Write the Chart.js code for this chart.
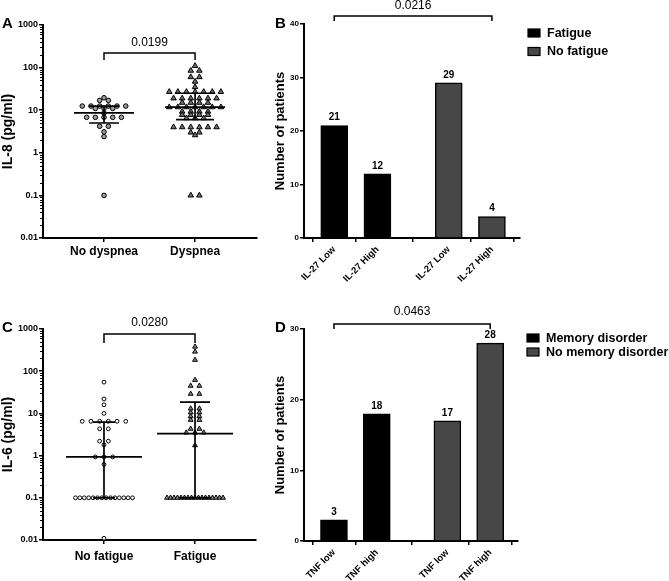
<!DOCTYPE html>
<html>
<head>
<meta charset="utf-8">
<script src="https://cdn.jsdelivr.net/npm/chart.js@4"></script>
<style>
    body { margin: 0; background: #fff; }
    #wrap { position: relative; width: 669px; height: 581px; }
    canvas { position: absolute; }
</style>
</head>
<body>
<div id="wrap">
    <canvas id="chartA" width="265" height="285" style="left:0;top:0"></canvas>
    <canvas id="chartB" width="404" height="285" style="left:265px;top:0"></canvas>
    <canvas id="chartC" width="265" height="296" style="left:0;top:285px"></canvas>
    <canvas id="chartD" width="404" height="296" style="left:265px;top:285px"></canvas>
</div>
<script>
// 数据 A：IL-8
const aGroups = ['No dyspnea', 'Dyspnea'];
const aNoDyspnea = [19.6, 17, 17, 12.5, 12.5, 12.5, 12.5, 12.5, 12.5, 11, 11, 11, 8.6,
    6.8, 6.8, 6.8, 6.8, 6.8, 4.2, 4.2, 3.1, 2.4, 0.1];
const aDyspnea = [110, 85, 85, 60, 60, 47, 35, 27, 27, 27, 27, 27, 27, 27,
    19, 19, 19, 19, 19, 19, 15, 15, 15, 15, 11.8, 11.8, 11.8, 11.8, 11.8, 11.8, 11.8,
    9.3, 9.3, 9.3, 9.3, 7.8, 7.8, 7.8, 7.8, 6.5, 6.5, 6.5, 4, 4, 4, 4, 4, 4, 3, 3, 2.6, 0.1, 0.1];
const aMean = [8.7, 11.8];
const aLow = [5.0, 6.0];
const aHigh = [12.5, 25];
const aPValue = '0.0199';

// 数据 B：IL-27 / 疲劳
const bSeries = ['Fatigue', 'No fatigue'];
const bLevels = ['IL-27 Low', 'IL-27 High'];
const bFatigue = [21, 12];
const bNoFatigue = [29, 4];
const bTicks = [0, 10, 20, 30, 40];
const bPValue = '0.0216';

// 数据 C：IL-6
const cGroups = ['No fatigue', 'Fatigue'];
const cNoFatigue = [55, 22, 16, 10, 6.5, 6.5, 6.5, 6.5, 6.5, 6.5, 4.3, 4.3, 2.2, 2.2, 1.8,
    0.93, 0.93, 0.93, 0.62, 0.1, 0.1, 0.1, 0.1, 0.1, 0.1, 0.1, 0.1, 0.1, 0.1, 0.1, 0.1, 0.1, 0.1, 0.011];
const cFatigue = [380, 290, 185, 62, 45, 45, 29, 29, 13, 13, 10.5, 10.5, 8.5, 8.5, 7, 7,
    4.3, 4.3, 3.5, 3.5, 3.5, 1.75, 0.1, 0.1, 0.1, 0.1, 0.1, 0.1, 0.1, 0.1, 0.1, 0.1, 0.1, 0.1,
    0.1, 0.1, 0.1, 0.1, 0.1];
const cMedian = [0.93, 3.3];
const cLow = [0.1, 0.1];
const cHigh = [6.2, 18.5];
const cPValue = '0.0280';

// 数据 D：TNF / 记忆障碍
const dSeries = ['Memory disorder', 'No memory disorder'];
const dLevels = ['TNF low', 'TNF high'];
const dMemory = [3, 18];
const dNoMemory = [17, 28];
const dTicks = [0, 10, 20, 30];
const dPValue = '0.0463';

const logTicks = [0.01, 0.1, 1, 10, 100, 1000];

const FONT = "'Liberation Sans', Arial, sans-serif";
Chart.defaults.font.family = FONT;
Chart.defaults.color = '#000';

const GROUP_STEP = 2.65;
function barX(g, l) { return 1 + g * GROUP_STEP + l; }

// 自定义绘制：字母、p值括号、均值线、柱顶数字、图例
const panelPlugin = {
    id: 'panel',
    afterDatasetsDraw(chart, args, opts) {
        const ctx = chart.ctx;
        const xs = chart.scales.x, ys = chart.scales.y;
        ctx.save();
        if (opts.summary) {
            const s = opts.summary;
            ctx.strokeStyle = '#000';
            ctx.lineWidth = 1.7;
            s.center.forEach(function(v, i) {
                const x = xs.getPixelForValue(i + 1);
                const yc = ys.getPixelForValue(v);
                const yl = ys.getPixelForValue(s.low[i]);
                const yh = ys.getPixelForValue(s.high[i]);
                ctx.beginPath();
                ctx.moveTo(x - s.wide, yc); ctx.lineTo(x + s.wide, yc);
                ctx.moveTo(x, yl); ctx.lineTo(x, yh);
                ctx.moveTo(x - s.cap[i], yh); ctx.lineTo(x + s.cap[i], yh);
                ctx.moveTo(x - s.cap[i], yl); ctx.lineTo(x + s.cap[i], yl);
                ctx.stroke();
            });
        }
        if (opts.barLabels) {
            ctx.font = 'bold 10px ' + FONT;
            ctx.textAlign = 'center';
            ctx.textBaseline = 'bottom';
            ctx.fillStyle = '#000';
            chart.data.datasets.forEach(function(ds, di) {
                chart.getDatasetMeta(di).data.forEach(function(bar, i) {
                    ctx.fillText(String(ds.data[i].y), bar.x, bar.y - 3);
                });
            });
        }
        ctx.restore();
    },
    afterDraw(chart, args, opts) {
        const ctx = chart.ctx;
        const xs = chart.scales.x, ys = chart.scales.y;
        const area = chart.chartArea;
        ctx.save();
        ctx.fillStyle = '#000';
        ctx.strokeStyle = '#000';
        // 面板字母
        ctx.font = 'bold 15px ' + FONT;
        ctx.textAlign = 'left';
        ctx.textBaseline = 'alphabetic';
        ctx.fillText(opts.letter[0], opts.letter[1], opts.letter[2]);
        // 对数小刻度
        if (opts.minorLog) {
            ctx.lineWidth = 1;
            ctx.beginPath();
            for (let d = 0.01; d < 999; d *= 10) {
                for (let m = 2; m <= 9; m++) {
                    const y = Math.round(ys.getPixelForValue(m * d)) + 0.5;
                    ctx.moveTo(area.left - 3, y);
                    ctx.lineTo(area.left, y);
                }
            }
            ctx.stroke();
        }
        // p 值括号
        const b = opts.bracket;
        const x1 = xs.getPixelForValue(b.from), x2 = xs.getPixelForValue(b.to);
        ctx.lineWidth = 1.5;
        ctx.beginPath();
        ctx.moveTo(x1, b.y + b.drop);
        ctx.lineTo(x1, b.y);
        ctx.lineTo(x2, b.y);
        ctx.lineTo(x2, b.y + b.drop);
        ctx.stroke();
        ctx.font = '12px ' + FONT;
        ctx.textAlign = 'center';
        ctx.textBaseline = 'middle';
        ctx.fillText(b.text, (x1 + x2) / 2, b.textY);
        // 图例
        if (opts.legend) {
            const lg = opts.legend;
            ctx.font = 'bold 12.5px ' + FONT;
            ctx.textAlign = 'left';
            chart.data.datasets.forEach(function(ds, i) {
                const y = lg.y + i * lg.gap;
                ctx.fillStyle = ds.backgroundColor;
                ctx.fillRect(lg.x, y - 4, 12, 8);
                ctx.lineWidth = 1.2;
                ctx.strokeRect(lg.x, y - 4, 12, 8);
                ctx.fillStyle = '#000';
                ctx.fillText(ds.label, lg.x + 19, y + 0.5);
            });
        }
        ctx.restore();
    }
};

function scatterSet(label, values, cx, style) {
    return Object.assign({
        label: label,
        data: values.map(function(v) { return {x: cx, y: v, cx: cx}; }),
        showLine: false
    }, style);
}

// 同值点横向排成一行（GraphPad 风格）
function spreadRows(chart) {
    const xs = chart.scales.x;
    const unit = xs.getPixelForValue(1) - xs.getPixelForValue(0);
    chart.data.datasets.forEach(function(ds) {
        const rows = new Map();
        ds.data.forEach(function(p) {
            if (!rows.has(p.y)) rows.set(p.y, []);
            rows.get(p.y).push(p);
        });
        const out = [];
        rows.forEach(function(row) {
            const n = row.length;
            const step = n > 1 ? Math.min(ds.rowStep, ds.rowMax / (n - 1)) : 0;
            row.forEach(function(p, i) {
                out.push({x: p.cx + (i - (n - 1) / 2) * step / unit, y: p.y, cx: p.cx});
            });
        });
        ds.data = out;
    });
    chart.update('none');
}

function axisBase(extra) {
    return Object.assign({
        border: {display: true, color: '#000', width: 2},
        grid: {display: true, drawOnChartArea: false, drawTicks: true, tickLength: 4, color: '#000', lineWidth: 1.5}
    }, extra);
}

// 固定坐标轴尺寸，去掉标签带来的额外边距
function fixX(h) {
    return function(scale) { scale.height = h; scale.paddingLeft = 0; scale.paddingRight = 0; };
}
function fixY(w) {
    return function(scale) { scale.width = w; scale.paddingTop = 0; scale.paddingBottom = 0; };
}

function scatterOptions(cfg) {
    return {
        responsive: false,
        animation: false,
        events: [],
        layout: {padding: cfg.padding},
        scales: {
            x: axisBase({
                type: 'linear', min: cfg.xMin, max: cfg.xMax,
                afterBuildTicks: function(scale) { scale.ticks = [{value: 1}, {value: 2}]; },
                afterFit: fixX(cfg.xHeight),
                ticks: {
                    font: {size: 12, weight: 'bold'}, padding: cfg.xPad, maxRotation: 0, autoSkip: false,
                    callback: function(v, i) { return cfg.groups[i]; }
                }
            }),
            y: axisBase({
                type: 'logarithmic', min: 0.01, max: 1000,
                afterBuildTicks: function(scale) { scale.ticks = logTicks.map(function(v) { return {value: v}; }); },
                afterFit: fixY(cfg.yWidth),
                ticks: {font: {size: 9, weight: 'bold'}, padding: 1, callback: function(v) { return String(v); }},
                title: {display: true, text: cfg.yTitle, font: {size: 14, weight: 'bold'}, padding: 0}
            })
        },
        plugins: {
            legend: {display: false},
            tooltip: {enabled: false},
            panel: cfg.panel
        }
    };
}

function barOptions(cfg) {
    return {
        responsive: false,
        animation: false,
        events: [],
        layout: {padding: cfg.padding},
        scales: {
            x: axisBase({
                type: 'linear', min: 0.3, max: 5.3, offset: false,
                afterBuildTicks: function(scale) {
                    scale.ticks = [barX(0, 0), barX(0, 1), barX(1, 0), barX(1, 1)].map(function(v) { return {value: v}; });
                },
                afterFit: fixX(cfg.xHeight),
                ticks: {
                    font: {size: 9.5, weight: 'bold'}, padding: 2, minRotation: 45, maxRotation: 45, autoSkip: false,
                    callback: function(v, i) { return cfg.levels[i % 2]; }
                }
            }),
            y: axisBase({
                type: 'linear', min: cfg.yTicks[0], max: cfg.yTicks[cfg.yTicks.length - 1],
                afterBuildTicks: function(scale) { scale.ticks = cfg.yTicks.map(function(v) { return {value: v}; }); },
                afterFit: fixY(cfg.yWidth),
                ticks: {font: {size: 8, weight: 'bold'}, padding: 1},
                title: {display: true, text: 'Number of patients', font: {size: 13, weight: 'bold'}, padding: {top: 8, bottom: 0}}
            })
        },
        plugins: {
            legend: {display: false},
            tooltip: {enabled: false},
            panel: cfg.panel
        }
    };
}

function barSets(series, first, second) {
    return [
        {label: series[0], data: first.map(function(v, i) { return {x: barX(0, i), y: v}; }),
            backgroundColor: '#000', borderColor: '#000', borderWidth: 1.5, barThickness: 27, grouped: false},
        {label: series[1], data: second.map(function(v, i) { return {x: barX(1, i), y: v}; }),
            backgroundColor: '#474747', borderColor: '#000', borderWidth: 1.5, barThickness: 27, grouped: false}
    ];
}

// 图 A
const ctxA = document.getElementById('chartA').getContext('2d');
window.chartA = new Chart(ctxA, {
    type: 'scatter',
    data: {datasets: [
        scatterSet(aGroups[0], aNoDyspnea, 1, {pointStyle: 'circle', pointRadius: 2.3, pointBackgroundColor: '#9a9a9a',
            pointBorderColor: '#000', pointBorderWidth: 1, rowStep: 8.7, rowMax: 57}),
        scatterSet(aGroups[1], aDyspnea, 2, {pointStyle: 'triangle', pointRadius: 3.2, pointBackgroundColor: '#6e6e6e',
            pointBorderColor: '#000', pointBorderWidth: 1, rowStep: 8.6, rowMax: 57})
    ]},
    options: scatterOptions({
        padding: {top: 25, right: 8, left: 0, bottom: 0},
        xMin: 0.33, xMax: 2.68, xHeight: 47, xPad: 2, yWidth: 43,
        groups: aGroups, yTitle: 'IL-8 (pg/ml)',
        panel: {
            letter: ['A', 2, 28], minorLog: true,
            bracket: {from: 1, to: 2, y: 53, drop: 7, text: aPValue, textY: 43},
            summary: {center: aMean, low: aLow, high: aHigh, wide: 30, cap: [15, 19]}
        }
    }),
    plugins: [panelPlugin]
});
spreadRows(window.chartA);

// 图 B
const ctxB = document.getElementById('chartB').getContext('2d');
window.chartB = new Chart(ctxB, {
    type: 'bar',
    data: {datasets: barSets(bSeries, bFatigue, bNoFatigue)},
    options: barOptions({
        padding: {top: 24, right: 149, left: 0, bottom: 0},
        xHeight: 47, yWidth: 39, levels: bLevels, yTicks: bTicks,
        panel: {
            letter: ['B', 10, 28], barLabels: true,
            bracket: {from: barX(0, 0), to: barX(1, 1), y: 16, drop: 5, text: bPValue, textY: 6},
            legend: {x: 263, y: 33, gap: 18.5}
        }
    }),
    plugins: [panelPlugin]
});

// 图 C
const ctxC = document.getElementById('chartC').getContext('2d');
window.chartC = new Chart(ctxC, {
    type: 'scatter',
    data: {datasets: [
        scatterSet(cGroups[0], cNoFatigue, 1, {pointStyle: 'circle', pointRadius: 1.9, pointBackgroundColor: '#fff',
            pointBorderColor: '#000', pointBorderWidth: 1, rowStep: 8.7, rowMax: 57}),
        scatterSet(cGroups[1], cFatigue, 2, {pointStyle: 'triangle', pointRadius: 2.8, pointBackgroundColor: '#8a8a8a',
            pointBorderColor: '#000', pointBorderWidth: 1, rowStep: 8.7, rowMax: 56})
    ]},
    options: scatterOptions({
        padding: {top: 44, right: 9, left: 0, bottom: 0},
        xMin: 0.33, xMax: 2.67, xHeight: 41, xPad: 5, yWidth: 43,
        groups: cGroups, yTitle: 'IL-6 (pg/ml)',
        panel: {
            letter: ['C', 2, 47], minorLog: true,
            bracket: {from: 1, to: 2, y: 49, drop: 9, text: cPValue, textY: 38},
            summary: {center: cMedian, low: cLow, high: cHigh, wide: 38, cap: [11, 15]}
        }
    }),
    plugins: [panelPlugin]
});
spreadRows(window.chartC);

// 图 D
const ctxD = document.getElementById('chartD').getContext('2d');
window.chartD = new Chart(ctxD, {
    type: 'bar',
    data: {datasets: barSets(dSeries, dMemory, dNoMemory)},
    options: barOptions({
        padding: {top: 44, right: 151, left: 0, bottom: 0},
        xHeight: 40, yWidth: 39, levels: dLevels, yTicks: dTicks,
        panel: {
            letter: ['D', 10, 47], barLabels: true,
            bracket: {from: barX(0, 0), to: barX(1, 1), y: 39, drop: 5, text: dPValue, textY: 26.5},
            legend: {x: 262, y: 53, gap: 14}
        }
    }),
    plugins: [panelPlugin]
});
</script>
</body>
</html>
